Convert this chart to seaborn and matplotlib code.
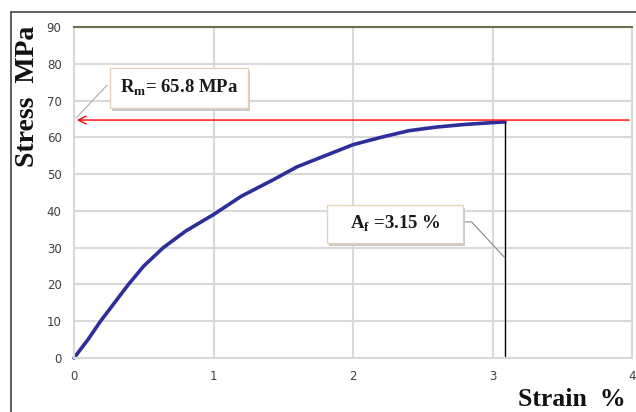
import numpy as np
import pandas as pd
import matplotlib
matplotlib.use("Agg")
import matplotlib.pyplot as plt
import seaborn as sns
from matplotlib.lines import Line2D
from matplotlib.patches import Rectangle

strain = [0, 0.10, 0.19, 0.29, 0.39, 0.50, 0.64, 0.80, 1.00, 1.20, 1.43, 1.60, 1.80, 2.00, 2.20, 2.40, 2.60, 2.80, 3.00, 3.09]
stress = [0, 5, 10, 15, 20, 25, 30, 34.5, 39, 44, 48.5, 52, 55, 58, 60, 61.8, 62.8, 63.5, 64.0, 64.2]
rm_level = 64.7
af_strain = 3.09
rm_label = "65.8 MPa"
af_label = "=3.15 %"
x_ticks = [0, 1, 2, 3, 4]
y_ticks = [0, 10, 20, 30, 40, 50, 60, 70, 80, 90]

df = pd.DataFrame({"Strain": strain, "Stress": stress})

sns.set_style("white")
fig = plt.figure(figsize=(6.36, 4.12), dpi=100)
ax = fig.add_axes([74/636, 54/412, 558/636, 331/412])

# outer frame lines
fig.add_artist(Line2D([11/636, 1.0], [1 - 12/412, 1 - 12/412], transform=fig.transFigure, color="#444444", lw=1.2))
fig.add_artist(Line2D([11/636, 11/636], [0, 1 - 12/412], transform=fig.transFigure, color="#444444", lw=1.2))

ax.set_xlim(0, 4)
ax.set_ylim(0, 90)
ax.set_xticks(x_ticks)
ax.set_yticks(y_ticks)
ax.grid(True, color="#d9d9d9", lw=1.5)
ax.set_axisbelow(True)
for s in ["left", "bottom", "right"]:
    ax.spines[s].set_color("#d9d9d9")
    ax.spines[s].set_linewidth(1.5)
ax.spines["top"].set_color("#6b7050")
ax.spines["top"].set_linewidth(1.5)
ax.tick_params(axis="both", length=0, labelsize=8.5, labelcolor="#404040")
ax.tick_params(axis="y", pad=9)
ax.tick_params(axis="x", pad=9)

sns.lineplot(data=df, x="Strain", y="Stress", ax=ax, color="#2e2e9a", lw=2.6, clip_on=False)
ax.set_xlabel("")
ax.set_ylabel("")

# Rm horizontal red line
ax.annotate("", xy=(0, rm_level), xytext=(4, rm_level),
            arrowprops=dict(arrowstyle="->", color="red", lw=1.0, mutation_scale=14))
# vertical line at fracture strain
ax.plot([af_strain, af_strain], [0, stress[-1]], color="black", lw=1.0)

serif = ["Liberation Serif", "DejaVu Serif"]

def label_box(x0, x1, y0, y1, text):
    ax.add_patch(Rectangle((x0 + 0.015, y0 - 0.8), x1 - x0, y1 - y0, fc="#c8c8c8", ec="none", zorder=4))
    ax.add_patch(Rectangle((x0, y0), x1 - x0, y1 - y0, fc="white", ec="#e6d2b8", lw=1.0, zorder=5))
    ax.text((x0 + x1) / 2, (y0 + y1) / 2, text, fontsize=13.5, family=serif, color="#1a1a1a",
            fontweight="bold", ha="center", va="center", zorder=6)

# Rm box and leader
ax.plot([0.237, 0.014], [74.2, 65.2], color="#aaaaaa", lw=0.8)
label_box(0.258, 1.247, 67.9, 78.8, r"R$_{\mathregular{m}}$= " + rm_label)
# Af box and leader
ax.plot([2.79, 2.85, af_strain], [37.0, 37.0, 27.2], color="#888888", lw=0.8)
label_box(1.814, 2.789, 31.3, 41.6, r"A$_{\mathregular{f}}$ " + af_label)

fig.text(28/636, 1 - 96/412, "Stress  MPa", rotation=90, fontsize=20, fontweight="bold",
         family=serif, ha="center", va="center", color="#111111")
fig.text(572/636, 1 - 400/412, "Strain  %", fontsize=18.5, fontweight="bold",
         family=serif, ha="center", va="center", color="#111111")

fig.savefig("out.png", dpi=100)
